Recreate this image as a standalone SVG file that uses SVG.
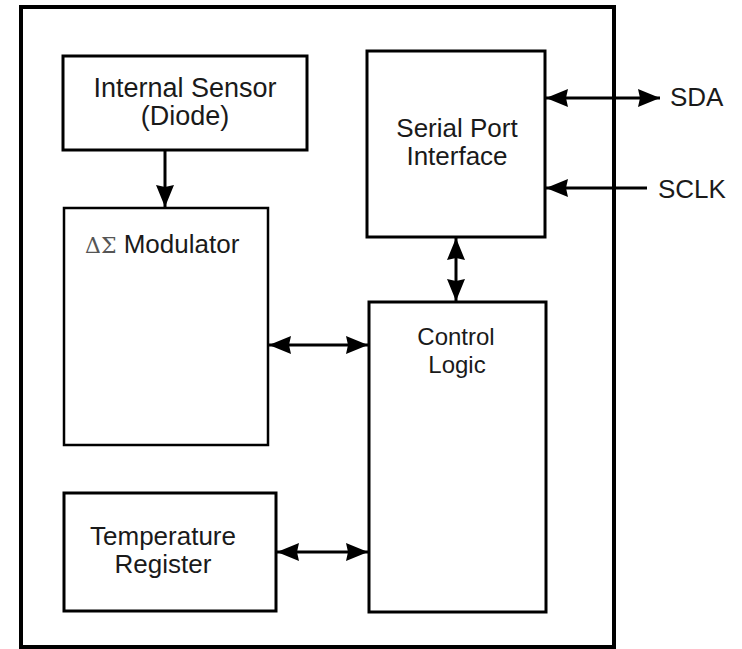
<svg xmlns="http://www.w3.org/2000/svg" width="742" height="649" viewBox="0 0 742 649">
<style>
.box{fill:#fff;stroke:#000;stroke-width:3}
.thin{stroke-width:2.5}
.lbl{font-family:"Liberation Sans",Arial,sans-serif;fill:#1a1a1a;text-anchor:middle}
.con{fill:none;stroke:#000;stroke-width:3}
</style>
<defs>
<marker id="ah" viewBox="0 0 22 20" refX="22" refY="10" markerWidth="22" markerHeight="20" markerUnits="userSpaceOnUse" orient="auto-start-reverse">
<path d="M0,1 L22,10 L0,19 L2,10 Z" fill="#000"/>
</marker>
</defs>
<rect width="742" height="649" fill="#fff"/>
<g id="chip">
<rect x="21" y="7" width="593" height="640" fill="none" stroke="#000" stroke-width="4"/>
</g>
<g id="sensor">
<rect class="box" x="63" y="56" width="244" height="94"/>
<text class="lbl" x="185" y="97" font-size="27">Internal Sensor</text>
<text class="lbl" x="185" y="125" font-size="27">(Diode)</text>
</g>
<g id="modulator">
<rect class="box thin" x="64" y="208" width="204" height="237"/>
<text class="lbl" x="85" y="253" font-size="26" style="text-anchor:start"><tspan fill="#555" font-family="'DejaVu Serif',serif" font-size="22">ΔΣ</tspan> Modulator</text>
</g>
<g id="spi">
<rect class="box" x="367" y="51" width="178" height="186"/>
<text class="lbl" x="457" y="137" font-size="26">Serial Port</text>
<text class="lbl" x="457" y="165" font-size="26">Interface</text>
</g>
<g id="control">
<rect class="box" x="369" y="302" width="177" height="310"/>
<text class="lbl" x="456" y="345" font-size="24">Control</text>
<text class="lbl" x="457" y="373" font-size="24">Logic</text>
</g>
<g id="temperature">
<rect class="box" x="64" y="493" width="212" height="118"/>
<text class="lbl" x="163" y="545" font-size="26">Temperature</text>
<text class="lbl" x="163" y="573" font-size="26">Register</text>
</g>
<g id="pins">
<text class="lbl" x="670" y="106" font-size="26" style="text-anchor:start">SDA</text>
<text class="lbl" x="658" y="198" font-size="26" style="text-anchor:start">SCLK</text>
</g>
<g id="connectors">
<line class="con" x1="165" y1="150" x2="165" y2="207" stroke-width="2" marker-end="url(#ah)"/>
<line class="con" x1="456" y1="238" x2="456" y2="301" marker-start="url(#ah)" marker-end="url(#ah)"/>
<line class="con" x1="269" y1="345" x2="368" y2="345" marker-start="url(#ah)" marker-end="url(#ah)"/>
<line class="con" x1="277" y1="552" x2="368" y2="552" marker-start="url(#ah)" marker-end="url(#ah)"/>
<line class="con" x1="546" y1="98" x2="660" y2="98" marker-start="url(#ah)" marker-end="url(#ah)"/>
<line class="con" x1="647" y1="188" x2="546" y2="188" marker-end="url(#ah)"/>
</g>
</svg>
